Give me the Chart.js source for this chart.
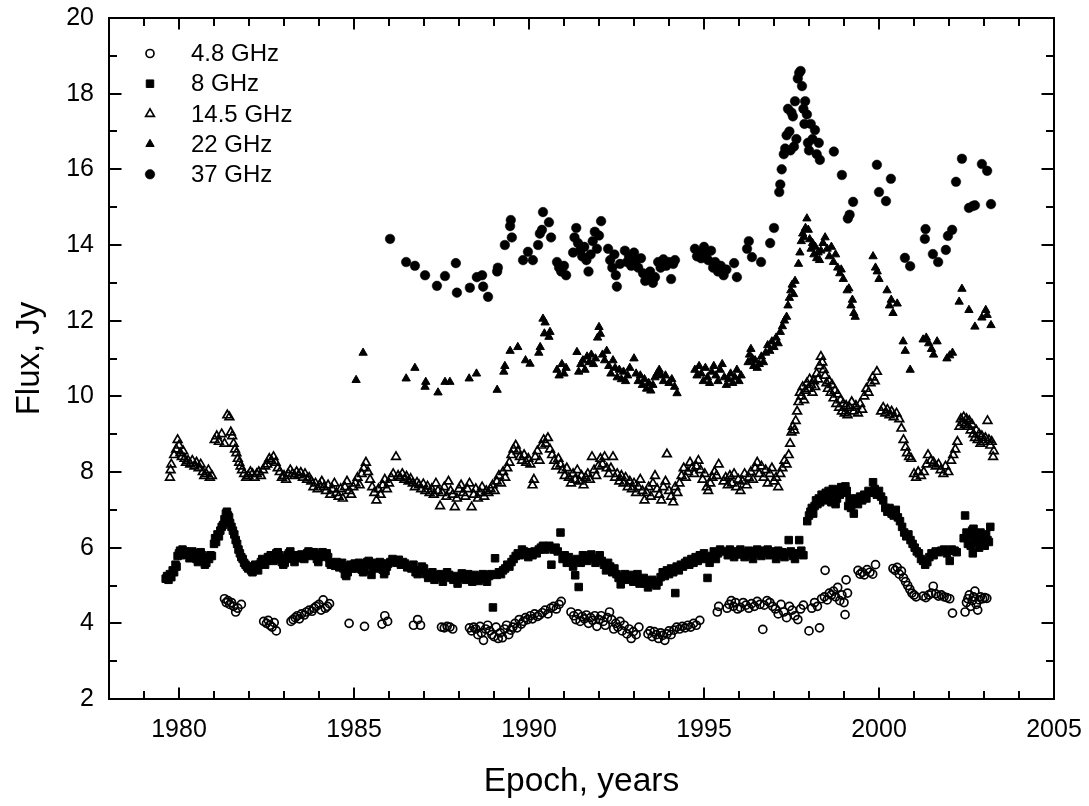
<!DOCTYPE html>
<html>
<head>
<meta charset="utf-8">
<script src="https://cdn.jsdelivr.net/npm/chart.js@4.4.1/dist/chart.umd.min.js"></script>
<style>
  html, body { margin: 0; padding: 0; background: #fff; }
  #wrap { width: 1089px; height: 806px; position: relative; }
</style>
</head>
<body>
<div id="wrap"><canvas id="c"></canvas></div>
<script>
// Radio light curves: [epoch (years), flux density (Jy)]
const seriesLabels = ['4.8 GHz', '8 GHz', '14.5 GHz', '22 GHz', '37 GHz'];
const yearTicks = [1980, 1985, 1990, 1995, 2000, 2005];
const fluxTicks = [2, 4, 6, 8, 10, 12, 14, 16, 18, 20];

const flux4_8 = [
  [1981.30,4.65],[1981.35,4.55],[1981.40,4.60],[1981.45,4.50],[1981.50,4.55],[1981.56,4.45],[1981.62,4.30],[1981.68,4.40],[1981.78,4.50],
  [1982.42,4.05],[1982.50,4.00],[1982.55,4.08],[1982.60,3.95],[1982.66,3.90],[1982.72,4.02],[1982.78,3.80],
  [1983.20,4.05],[1983.26,4.10],[1983.32,4.15],[1983.38,4.20],[1983.44,4.12],[1983.50,4.25],[1983.58,4.22],[1983.64,4.30],[1983.72,4.35],[1983.80,4.32],[1983.86,4.40],[1983.92,4.45],[1984.00,4.50],[1984.06,4.35],[1984.12,4.62],[1984.18,4.40],[1984.24,4.45],[1984.30,4.52],
  [1984.86,4.00],[1985.30,3.92],[1985.80,3.98],[1985.88,4.20],[1985.96,4.05],
  [1986.70,3.95],[1986.82,4.10],[1986.90,3.95],
  [1987.50,3.90],[1987.58,3.88],[1987.66,3.92],[1987.74,3.90],[1987.82,3.85],
  [1988.30,3.88],[1988.36,3.80],[1988.42,3.90],[1988.48,3.85],[1988.54,3.70],[1988.60,3.92],[1988.64,3.75],[1988.70,3.55],[1988.76,3.85],[1988.82,3.95],[1988.88,3.80],[1988.94,3.70],[1989.00,3.65],[1989.06,3.90],[1989.12,3.60],[1989.18,3.75],[1989.24,3.62],[1989.30,3.85],[1989.36,3.95],[1989.42,3.70],[1989.48,3.82],[1989.54,3.90],[1989.60,4.00],[1989.66,3.88],[1989.72,4.10],[1989.78,3.98],[1989.84,4.05],[1989.90,4.15],[1989.96,4.10],
  [1990.04,4.20],[1990.10,4.12],[1990.16,4.25],[1990.24,4.18],[1990.30,4.22],[1990.38,4.28],[1990.46,4.35],[1990.54,4.25],[1990.62,4.40],[1990.70,4.45],[1990.78,4.38],[1990.86,4.50],[1990.92,4.58],
  [1991.20,4.30],[1991.28,4.20],[1991.34,4.10],[1991.40,4.25],[1991.46,4.05],[1991.52,4.18],[1991.58,4.12],[1991.64,4.22],[1991.70,4.00],[1991.76,4.15],[1991.82,4.08],[1991.88,4.20],[1991.94,3.92],[1992.00,4.10],[1992.06,4.20],[1992.12,4.05],[1992.18,3.95],[1992.24,4.15],[1992.30,4.30],[1992.36,4.10],[1992.42,3.85],[1992.48,4.00],[1992.54,3.90],[1992.60,4.05],[1992.66,3.80],[1992.72,3.95],[1992.80,3.72],[1992.86,3.85],[1992.92,3.60],[1992.98,3.78],[1993.06,3.70],[1993.14,3.90],
  [1993.40,3.72],[1993.46,3.80],[1993.52,3.65],[1993.58,3.78],[1993.64,3.70],[1993.70,3.60],[1993.76,3.75],[1993.82,3.68],[1993.88,3.55],[1993.94,3.72],[1994.00,3.80],[1994.06,3.70],[1994.14,3.82],[1994.22,3.90],[1994.30,3.85],[1994.38,3.92],[1994.46,3.88],[1994.54,3.95],[1994.62,3.90],[1994.70,4.00],[1994.78,3.95],[1994.88,4.08],
  [1995.38,4.30],[1995.42,4.45],
  [1995.66,4.40],[1995.72,4.50],[1995.78,4.60],[1995.84,4.45],[1995.90,4.55],[1995.96,4.38],[1996.04,4.42],[1996.12,4.55],[1996.20,4.48],[1996.28,4.40],[1996.36,4.52],[1996.44,4.45],[1996.52,4.58],[1996.60,4.50],[1996.68,3.84],[1996.72,4.48],[1996.80,4.60],[1996.88,4.55],[1996.96,4.45],
  [1997.04,4.38],[1997.12,4.25],[1997.20,4.50],[1997.28,4.30],[1997.36,4.15],[1997.44,4.45],[1997.52,4.35],[1997.60,4.20],[1997.68,4.10],[1997.76,4.38],[1997.84,4.48],[1998.00,3.80],[1998.08,4.40],[1998.16,4.55],[1998.24,4.45],[1998.30,3.88],[1998.36,4.65],[1998.44,4.70],[1998.46,5.40],[1998.52,4.62],[1998.58,4.80],[1998.64,4.75],[1998.70,4.85],[1998.76,4.70],[1998.82,4.95],[1998.88,4.60],[1998.94,4.75],[1999.00,4.55],[1999.03,4.23],[1999.06,5.15],[1999.10,4.80],
  [1999.40,5.40],[1999.46,5.30],[1999.52,5.35],[1999.58,5.28],[1999.66,5.42],[1999.74,5.35],[1999.82,5.30],[1999.90,5.55],
  [2000.40,5.45],[2000.46,5.40],[2000.52,5.48],[2000.58,5.30],[2000.64,5.38],[2000.70,5.20],[2000.76,5.10],[2000.82,5.00],[2000.88,4.90],[2000.94,4.80],[2001.00,4.75],[2001.06,4.70],
  [2001.26,4.72],[2001.34,4.68],[2001.42,4.75],[2001.50,4.80],[2001.55,4.98],[2001.62,4.78],[2001.70,4.72],[2001.78,4.75],[2001.86,4.70],[2001.94,4.68],[2002.02,4.65],[2002.10,4.27],
  [2002.46,4.30],[2002.50,4.55],[2002.54,4.65],[2002.58,4.75],[2002.62,4.45],[2002.66,4.60],[2002.70,4.70],[2002.74,4.85],[2002.78,4.50],[2002.82,4.35],[2002.86,4.62],[2002.90,4.70],[2002.96,4.65],[2003.02,4.68],[2003.08,4.66]
];

const flux8 = [
  [1979.62,5.18],[1979.66,5.25],[1979.70,5.15],[1979.74,5.30],[1979.78,5.22],[1979.82,5.40],[1979.86,5.35],[1979.90,5.55],[1979.93,5.50],[1979.96,5.78],
  [1980.00,5.85],[1980.03,5.92],[1980.06,5.80],[1980.10,5.95],[1980.14,5.88],[1980.18,5.90],[1980.22,5.82],[1980.26,5.85],[1980.30,5.72],[1980.34,5.78],[1980.38,5.90],[1980.42,5.85],[1980.46,5.80],[1980.50,5.70],[1980.54,5.62],[1980.58,5.85],[1980.62,5.88],[1980.66,5.80],[1980.70,5.74],[1980.74,5.55],[1980.78,5.60],[1980.82,5.75],[1980.86,5.70],[1980.90,5.80],[1980.94,5.78],
  [1981.00,6.10],[1981.03,6.25],[1981.06,6.15],[1981.10,6.35],[1981.14,6.30],[1981.18,6.45],[1981.22,6.55],[1981.26,6.60],[1981.30,6.75],[1981.34,6.90],[1981.37,6.95],[1981.40,6.85],[1981.43,6.80],[1981.46,6.65],[1981.50,6.55],[1981.54,6.45],[1981.58,6.35],[1981.62,6.20],[1981.66,6.10],[1981.70,5.95],[1981.74,5.85],[1981.78,5.75],[1981.82,5.70],[1981.86,5.60],[1981.90,5.55],[1981.94,5.50],[1981.98,5.45],
  [1982.02,5.50],[1982.06,5.40],[1982.10,5.35],[1982.14,5.45],[1982.18,5.55],[1982.22,5.50],[1982.26,5.40],[1982.30,5.55],[1982.34,5.62],[1982.38,5.70],[1982.42,5.60],[1982.46,5.55],[1982.50,5.65],[1982.54,5.75],[1982.58,5.70],[1982.62,5.80],[1982.66,5.72],[1982.70,5.65],[1982.74,5.78],[1982.78,5.85],[1982.82,5.88],[1982.86,5.80],[1982.90,5.70],[1982.94,5.62],[1982.98,5.55],
  [1983.02,5.60],[1983.06,5.72],[1983.10,5.80],[1983.14,5.85],[1983.18,5.90],[1983.22,5.80],[1983.26,5.70],[1983.30,5.62],[1983.34,5.75],[1983.38,5.80],[1983.42,5.72],[1983.46,5.78],[1983.50,5.82],[1983.54,5.75],[1983.58,5.70],[1983.62,5.80],[1983.66,5.85],[1983.70,5.90],[1983.74,5.82],[1983.78,5.78],[1983.82,5.85],[1983.86,5.88],[1983.90,5.80],[1983.94,5.70],[1983.98,5.62],
  [1984.02,5.75],[1984.06,5.82],[1984.10,5.88],[1984.14,5.80],[1984.18,5.78],[1984.22,5.85],[1984.26,5.75],[1984.30,5.60],[1984.34,5.55],[1984.38,5.60],[1984.42,5.58],[1984.46,5.52],[1984.50,5.62],[1984.54,5.55],[1984.58,5.48],[1984.62,5.55],[1984.66,5.60],[1984.70,5.45],[1984.74,5.30],[1984.78,5.25],[1984.82,5.35],[1984.86,5.50],[1984.90,5.55],[1984.94,5.45],[1984.98,5.52],
  [1985.02,5.58],[1985.06,5.45],[1985.10,5.50],[1985.14,5.60],[1985.18,5.55],[1985.22,5.42],[1985.26,5.35],[1985.30,5.40],[1985.34,5.55],[1985.38,5.62],[1985.42,5.65],[1985.46,5.55],[1985.50,5.28],[1985.54,5.48],[1985.58,5.60],[1985.62,5.52],[1985.66,5.45],[1985.70,5.55],[1985.74,5.62],[1985.78,5.58],[1985.82,5.42],[1985.86,5.30],[1985.90,5.38],[1985.94,5.50],[1985.98,5.58],
  [1986.04,5.62],[1986.10,5.70],[1986.16,5.65],[1986.22,5.60],[1986.28,5.68],[1986.34,5.55],[1986.40,5.62],[1986.46,5.58],[1986.52,5.48],[1986.58,5.52],[1986.64,5.45],[1986.70,5.55],[1986.76,5.35],[1986.82,5.30],[1986.88,5.40],[1986.94,5.50],
  [1987.00,5.45],[1987.06,5.30],[1987.12,5.20],[1987.18,5.25],[1987.24,5.35],[1987.30,5.15],[1987.36,5.28],[1987.42,5.22],[1987.48,5.30],[1987.54,5.10],[1987.60,5.25],[1987.66,5.35],[1987.72,5.28],[1987.78,5.20],[1987.84,5.15],[1987.90,5.25],[1987.96,5.05],
  [1988.02,5.20],[1988.08,5.32],[1988.14,5.25],[1988.20,5.15],[1988.26,5.30],[1988.32,5.22],[1988.38,5.10],[1988.44,5.28],[1988.50,5.20],[1988.56,5.12],[1988.62,5.25],[1988.68,5.30],[1988.74,5.18],[1988.80,5.10],[1988.86,5.25],[1988.92,5.30],[1988.97,4.42],
  [1989.03,5.72],[1989.08,5.28],[1989.14,5.35],[1989.20,5.30],[1989.26,5.40],[1989.32,5.45],[1989.38,5.55],[1989.44,5.50],[1989.50,5.62],[1989.56,5.70],[1989.62,5.78],[1989.68,5.85],[1989.74,5.80],[1989.80,5.95],[1989.86,5.90],[1989.92,5.85],[1989.98,5.75],
  [1990.04,5.88],[1990.10,5.80],[1990.16,5.90],[1990.22,5.85],[1990.28,5.95],[1990.34,6.00],[1990.40,6.05],[1990.46,5.95],[1990.52,6.02],[1990.58,6.05],[1990.64,5.55],[1990.70,5.95],[1990.76,6.00],[1990.82,5.90],[1990.90,6.40],[1990.96,5.70],
  [1991.02,5.80],[1991.08,5.60],[1991.14,5.75],[1991.20,5.65],[1991.26,5.50],[1991.32,5.27],[1991.38,5.70],[1991.42,4.96],[1991.48,5.60],[1991.54,5.80],[1991.60,5.70],[1991.66,5.65],[1991.72,5.75],[1991.78,5.82],[1991.84,5.70],[1991.90,5.60],[1991.96,5.72],
  [1992.02,5.80],[1992.08,5.65],[1992.14,5.55],[1992.20,5.40],[1992.26,5.60],[1992.32,5.50],[1992.38,5.35],[1992.44,5.45],[1992.50,5.30],[1992.56,5.20],[1992.62,5.03],[1992.68,5.25],[1992.74,5.30],[1992.80,5.15],[1992.86,5.20],[1992.92,5.28],[1992.98,5.10],
  [1993.04,5.15],[1993.10,5.30],[1993.16,5.05],[1993.22,5.12],[1993.28,5.20],[1993.34,5.05],[1993.40,4.95],[1993.46,5.08],[1993.52,5.15],[1993.58,5.05],[1993.64,5.00],[1993.70,5.10],[1993.76,5.22],[1993.82,5.35],[1993.88,5.25],[1993.94,5.40],
  [1994.00,5.30],[1994.06,5.45],[1994.12,5.35],[1994.18,4.80],[1994.22,5.50],[1994.28,5.40],[1994.34,5.55],[1994.40,5.50],[1994.46,5.60],[1994.52,5.65],[1994.58,5.55],[1994.64,5.70],[1994.70,5.60],[1994.76,5.75],[1994.82,5.65],[1994.88,5.80],[1994.94,5.70],
  [1995.00,5.85],[1995.06,5.75],[1995.10,5.20],[1995.16,5.60],[1995.22,5.78],[1995.28,5.90],[1995.34,5.70],[1995.40,5.85],[1995.46,5.95],
  [1995.62,5.90],[1995.68,5.80],[1995.74,5.95],[1995.80,5.85],[1995.86,5.75],[1995.92,5.90],[1995.98,5.82],
  [1996.04,5.95],[1996.10,5.88],[1996.16,5.75],[1996.22,5.85],[1996.28,5.92],[1996.34,5.80],[1996.40,5.70],[1996.46,5.90],[1996.52,5.95],[1996.58,5.85],[1996.64,5.78],[1996.70,5.92],[1996.76,5.85],[1996.82,5.95],[1996.88,5.80],[1996.94,5.90],
  [1997.00,5.85],[1997.06,5.70],[1997.12,5.92],[1997.18,5.80],[1997.24,5.88],[1997.30,5.75],[1997.36,5.85],[1997.42,6.20],[1997.48,5.90],[1997.54,5.78],[1997.60,5.70],[1997.66,5.85],[1997.72,6.20],[1997.78,5.92],[1997.84,5.80],
  [1997.95,6.70],[1998.00,6.85],[1998.04,6.95],[1998.08,7.05],[1998.12,6.90],[1998.16,7.10],[1998.20,7.25],[1998.24,7.15],[1998.28,7.30],[1998.32,7.20],[1998.36,7.40],[1998.40,7.35],[1998.44,7.25],[1998.48,7.45],[1998.52,7.30],[1998.56,7.50],[1998.60,7.40],[1998.64,7.20],[1998.68,7.55],[1998.72,7.35],[1998.76,7.15],[1998.80,7.30],[1998.84,7.50],[1998.88,7.40],[1998.92,7.60],[1998.96,7.55],
  [1999.00,7.45],[1999.04,7.62],[1999.08,7.50],[1999.12,7.10],[1999.16,7.30],[1999.20,7.05],[1999.24,7.15],[1999.28,6.90],[1999.32,7.20],[1999.36,7.30],[1999.40,7.15],[1999.46,7.35],[1999.52,7.25],[1999.58,7.40],[1999.64,7.30],[1999.70,7.50],[1999.76,7.45],[1999.83,7.73],[1999.88,7.55],[1999.94,7.40],
  [2000.00,7.50],[2000.06,7.35],[2000.12,7.25],[2000.18,7.05],[2000.24,6.95],[2000.30,7.05],[2000.36,6.90],[2000.42,6.85],[2000.48,7.00],[2000.54,6.80],[2000.60,6.70],[2000.66,6.55],[2000.72,6.40],[2000.78,6.30],[2000.84,6.35],[2000.90,6.20],[2000.96,6.10],
  [2001.02,6.00],[2001.08,5.90],[2001.14,5.85],[2001.20,5.70],[2001.26,5.65],[2001.32,5.55],[2001.38,5.62],[2001.44,5.75],[2001.50,5.85],[2001.56,5.80],[2001.62,5.90],[2001.70,5.88],[2001.78,5.92],[2001.86,5.95],[2001.94,5.85],
  [2002.02,5.65],[2002.08,5.95],[2002.16,5.92],[2002.22,5.88],
  [2002.42,6.25],[2002.46,6.85],[2002.50,6.40],[2002.54,6.10],[2002.58,6.30],[2002.62,6.05],[2002.66,6.45],[2002.68,5.85],[2002.70,6.50],[2002.74,6.20],[2002.78,6.35],[2002.82,6.15],[2002.86,6.00],[2002.90,6.40],[2002.94,6.25],[2002.98,6.10],[2003.02,6.05],[2003.06,6.35],[2003.10,6.20],[2003.14,6.15],[2003.18,6.55]
];

const flux14_5 = [
  [1979.74,7.85],[1979.76,8.05],[1979.78,8.20],[1979.86,8.45],[1979.92,8.60],[1979.96,8.85],
  [1980.00,8.70],[1980.04,8.50],[1980.08,8.40],[1980.12,8.55],[1980.16,8.35],[1980.20,8.25],[1980.26,8.30],[1980.32,8.20],[1980.38,8.30],[1980.44,8.15],[1980.50,8.25],[1980.56,8.10],[1980.62,8.20],[1980.68,8.00],[1980.72,7.90],[1980.78,7.95],[1980.84,8.05],[1980.88,7.85],[1980.94,7.90],
  [1981.02,8.85],[1981.08,8.95],[1981.14,8.80],[1981.22,9.00],[1981.30,8.75],[1981.38,9.50],[1981.44,9.45],[1981.48,9.05],[1981.52,8.95],[1981.56,8.75],[1981.60,8.60],[1981.64,8.50],[1981.68,8.35],[1981.72,8.25],[1981.76,8.15],[1981.80,8.05],[1981.86,7.95],[1981.92,7.85],[1981.98,7.90],
  [1982.04,8.00],[1982.10,7.95],[1982.16,7.85],[1982.22,7.95],[1982.28,8.00],[1982.34,7.90],[1982.40,8.05],[1982.46,8.15],[1982.52,8.20],[1982.58,8.35],[1982.64,8.30],[1982.70,8.40],[1982.76,8.25],[1982.82,8.10],[1982.88,8.00],[1982.94,7.85],
  [1983.00,7.90],[1983.06,7.80],[1983.12,7.95],[1983.18,8.05],[1983.24,7.95],[1983.30,7.90],[1983.36,8.00],[1983.42,7.92],[1983.48,7.98],[1983.54,7.85],[1983.60,7.95],[1983.66,7.80],[1983.72,7.85],[1983.78,7.75],[1983.84,7.60],[1983.90,7.70],[1983.96,7.55],
  [1984.02,7.65],[1984.08,7.75],[1984.14,7.60],[1984.20,7.50],[1984.26,7.65],[1984.32,7.40],[1984.38,7.55],[1984.44,7.70],[1984.50,7.45],[1984.56,7.35],[1984.62,7.55],[1984.68,7.30],[1984.74,7.60],[1984.80,7.75],[1984.86,7.50],[1984.92,7.40],[1984.98,7.60],
  [1985.04,7.70],[1985.10,7.85],[1985.16,7.65],[1985.22,7.95],[1985.28,8.10],[1985.34,8.25],[1985.40,8.00],[1985.46,7.80],[1985.52,7.60],[1985.58,7.45],[1985.64,7.25],[1985.70,7.55],[1985.76,7.40],[1985.82,7.65],[1985.88,7.80],[1985.94,7.55],
  [1986.00,7.70],[1986.06,7.85],[1986.12,7.95],[1986.20,8.40],[1986.26,7.90],[1986.32,7.85],[1986.38,7.95],[1986.44,7.80],[1986.50,7.88],[1986.56,7.75],[1986.62,7.82],[1986.68,7.70],[1986.74,7.60],[1986.80,7.72],[1986.86,7.65],[1986.92,7.55],[1986.98,7.68],
  [1987.04,7.50],[1987.10,7.62],[1987.16,7.45],[1987.22,7.55],[1987.28,7.40],[1987.34,7.70],[1987.40,7.50],[1987.46,7.10],[1987.52,7.45],[1987.58,7.60],[1987.64,7.35],[1987.70,7.75],[1987.76,7.50],[1987.82,7.40],[1987.88,7.07],[1987.94,7.30],
  [1988.00,7.55],[1988.06,7.65],[1988.12,7.45],[1988.18,7.35],[1988.24,7.55],[1988.30,7.70],[1988.36,7.07],[1988.42,7.40],[1988.48,7.55],[1988.54,7.30],[1988.60,7.45],[1988.66,7.60],[1988.72,7.35],[1988.78,7.50],[1988.84,7.45],[1988.90,7.55],[1988.96,7.65],
  [1989.02,7.50],[1989.08,7.75],[1989.14,7.90],[1989.20,7.70],[1989.26,8.00],[1989.32,7.85],[1989.38,8.10],[1989.44,8.25],[1989.50,8.45],[1989.56,8.60],[1989.62,8.70],[1989.68,8.55],[1989.74,8.40],[1989.80,8.30],[1989.86,8.45],[1989.92,8.25],[1989.98,8.35],
  [1990.04,8.20],[1990.10,7.65],[1990.14,7.80],[1990.18,8.40],[1990.24,8.55],[1990.30,8.30],[1990.36,8.70],[1990.42,8.85],[1990.48,8.75],[1990.54,8.90],[1990.60,8.60],[1990.66,8.45],[1990.72,8.30],[1990.78,8.15],[1990.84,8.35],[1990.90,8.20],[1990.96,8.05],
  [1991.02,7.90],[1991.08,8.10],[1991.14,7.85],[1991.20,7.70],[1991.26,7.95],[1991.32,7.80],[1991.38,8.05],[1991.44,7.75],[1991.50,7.90],[1991.56,7.65],[1991.62,7.85],[1991.68,7.95],[1991.74,7.80],[1991.80,8.40],[1991.86,8.05],[1991.92,7.90],[1991.98,8.15],
  [1992.04,8.35],[1992.10,8.20],[1992.16,8.40],[1992.22,8.10],[1992.28,7.95],[1992.34,8.10],[1992.40,8.40],[1992.46,7.85],[1992.52,7.95],[1992.58,7.75],[1992.64,7.90],[1992.70,7.70],[1992.76,7.85],[1992.82,7.60],[1992.88,7.75],[1992.94,7.55],
  [1993.00,7.70],[1993.06,7.45],[1993.12,7.60],[1993.18,7.80],[1993.24,7.50],[1993.30,7.25],[1993.36,7.45],[1993.42,7.60],[1993.48,7.35],[1993.54,7.70],[1993.60,7.90],[1993.66,7.55],[1993.72,7.40],[1993.78,7.25],[1993.84,7.60],[1993.90,7.75],[1993.94,8.47],
  [1994.00,7.50],[1994.06,7.35],[1994.12,7.20],[1994.18,7.60],[1994.24,7.45],[1994.30,7.70],[1994.36,7.90],[1994.42,8.10],[1994.48,7.85],[1994.54,8.00],[1994.60,8.25],[1994.66,8.10],[1994.72,7.95],[1994.78,8.15],[1994.84,8.30],[1994.90,8.05],[1994.96,7.80],
  [1995.02,7.95],[1995.08,7.60],[1995.12,7.50],[1995.18,7.70],[1995.24,7.85],[1995.30,8.00],[1995.36,7.90],[1995.42,8.20],
  [1995.56,7.75],[1995.62,7.85],[1995.68,7.65],[1995.74,7.90],[1995.80,7.70],[1995.86,7.95],[1995.92,7.60],[1995.98,7.80],
  [1996.04,7.50],[1996.10,7.75],[1996.16,7.95],[1996.22,7.65],[1996.28,7.85],[1996.34,8.00],[1996.40,7.80],[1996.46,8.10],[1996.52,8.25],[1996.58,7.95],[1996.64,8.15],[1996.70,7.85],[1996.76,8.05],[1996.82,7.70],[1996.88,7.95],[1996.94,8.10],
  [1997.00,7.75],[1997.06,7.85],[1997.12,7.60],[1997.18,7.95],[1997.24,8.10],[1997.30,8.30],[1997.36,8.20],[1997.42,8.45],[1997.46,8.75],[1997.50,9.05],[1997.54,9.20],[1997.58,9.10],[1997.62,9.35],[1997.66,9.60],[1997.70,9.85],[1997.74,10.10],[1997.78,10.00],[1997.82,10.25],[1997.86,9.90],[1997.90,10.15],[1997.94,10.35],[1997.98,10.20],
  [1998.02,10.45],[1998.06,10.30],[1998.10,10.10],[1998.14,10.40],[1998.18,10.25],[1998.22,10.60],[1998.26,10.45],[1998.30,10.80],[1998.34,11.05],[1998.38,10.90],[1998.42,10.70],[1998.46,10.55],[1998.50,10.35],[1998.54,10.20],[1998.58,10.40],[1998.62,10.10],[1998.66,10.30],[1998.70,9.95],[1998.74,10.15],[1998.78,9.80],[1998.82,10.05],[1998.86,9.70],[1998.90,9.90],[1998.94,9.60],[1998.98,9.80],
  [1999.02,9.55],[1999.06,9.75],[1999.10,9.50],[1999.16,9.70],[1999.22,9.85],[1999.28,9.60],[1999.34,9.75],[1999.40,9.55],[1999.46,9.80],[1999.52,9.65],[1999.58,10.00],[1999.64,10.20],[1999.70,10.10],[1999.76,10.35],[1999.82,10.50],[1999.88,10.40],[1999.94,10.65],
  [2000.06,9.60],[2000.12,9.70],[2000.18,9.55],[2000.24,9.65],[2000.30,9.50],[2000.36,9.60],[2000.42,9.45],[2000.50,9.55],[2000.58,9.40],[2000.64,9.15],[2000.70,8.85],[2000.76,8.65],[2000.80,8.50],[2000.86,8.40],[2000.92,8.35],
  [2001.00,7.95],[2001.06,7.85],[2001.12,8.00],[2001.20,7.90],[2001.28,8.00],[2001.36,8.20],[2001.40,8.45],[2001.48,8.30],[2001.56,8.25],[2001.62,8.15],[2001.70,8.20],[2001.76,8.05],[2001.84,7.95],[2001.90,8.15],[2001.98,8.00],
  [2002.06,8.30],[2002.12,8.45],[2002.18,8.60],[2002.24,8.80],[2002.30,9.20],[2002.34,9.40],[2002.38,9.30],[2002.42,9.45],[2002.46,9.25],[2002.50,9.40],[2002.54,9.20],[2002.58,9.35],[2002.62,9.10],[2002.66,9.25],[2002.70,9.00],[2002.74,8.90],[2002.78,9.10],[2002.82,8.85],[2002.86,9.00],[2002.90,8.75],[2002.94,8.95],[2002.98,8.80],
  [2003.04,8.90],[2003.10,9.35],[2003.14,8.85],[2003.18,8.70],[2003.22,8.80],[2003.26,8.40],[2003.28,8.55]
];

const flux22 = [
  [1985.06,10.43],[1985.26,11.15],[1986.49,10.47],[1986.74,10.75],[1987.03,10.25],[1987.05,10.38],[1987.40,10.10],[1987.60,10.38],[1987.74,10.38],[1988.29,10.47],[1988.50,10.60],
  [1989.09,10.17],[1989.28,10.65],[1989.31,10.80],[1989.46,11.20],[1989.68,11.30],[1989.90,10.95],[1990.03,10.86],[1990.28,11.15],[1990.32,11.30],[1990.40,12.05],[1990.46,11.95],[1990.44,11.66],[1990.57,11.57],[1990.60,11.70],
  [1990.80,10.70],[1990.86,10.55],[1990.94,10.85],[1991.00,10.60],[1991.06,10.75],[1991.37,11.17],[1991.42,10.65],[1991.48,10.85],[1991.54,10.95],[1991.60,10.70],[1991.66,11.05],[1991.72,10.90],[1991.78,11.10],[1991.84,10.85],[1991.90,11.00],[1991.96,11.55],
  [1992.00,11.83],[1992.04,11.65],[1992.10,11.10],[1992.16,10.95],[1992.22,11.20],[1992.28,10.80],[1992.34,10.60],[1992.40,10.95],[1992.46,10.75],[1992.52,10.50],[1992.58,10.70],[1992.64,10.45],[1992.70,10.65],[1992.76,10.40],[1992.82,10.55],[1992.88,10.75],
  [1993.00,11.00],[1993.06,10.60],[1993.12,10.40],[1993.18,10.55],[1993.24,10.30],[1993.30,10.45],[1993.36,10.20],[1993.42,10.35],[1993.48,10.15],[1993.54,10.30],[1993.60,10.50],[1993.66,10.60],[1993.72,10.70],[1993.78,10.55],[1993.84,10.40],[1993.90,10.55],
  [1994.00,10.35],[1994.08,10.45],[1994.16,10.25],[1994.23,10.08],
  [1994.74,10.70],[1994.80,10.55],[1994.86,10.80],[1994.92,10.60],[1994.98,10.40],[1995.04,10.75],[1995.10,10.50],[1995.16,10.35],[1995.22,10.65],[1995.28,10.80],[1995.34,10.55],[1995.40,10.40],[1995.46,10.70],[1995.52,10.85],[1995.58,10.50],[1995.64,10.30],[1995.70,10.45],[1995.76,10.60],[1995.82,10.35],[1995.88,10.50],[1995.94,10.70],
  [1996.00,10.40],[1996.06,10.55],[1996.26,10.90],[1996.30,11.10],[1996.34,11.25],[1996.38,11.00],[1996.42,10.80],[1996.46,10.95],[1996.52,10.75],[1996.58,10.85],[1996.64,11.05],[1996.70,10.90],[1996.76,11.15],[1996.82,11.35],[1996.88,11.20],[1996.94,11.45],
  [1997.00,11.30],[1997.06,11.55],[1997.12,11.40],[1997.18,11.70],[1997.24,11.85],[1997.30,12.00],[1997.36,12.10],[1997.40,12.40],[1997.44,12.60],[1997.48,12.80],[1997.52,12.95],[1997.56,12.70],[1997.60,13.05],
  [1997.70,13.50],[1997.74,13.80],[1997.78,14.10],[1997.82,14.30],[1997.86,14.20],[1997.90,14.45],[1997.94,14.70],[1997.98,14.40],
  [1998.02,14.15],[1998.06,13.90],[1998.10,14.05],[1998.14,13.75],[1998.18,13.95],[1998.22,13.65],[1998.26,13.80],[1998.30,13.60],[1998.34,13.85],[1998.40,14.05],[1998.46,14.20],[1998.52,13.90],[1998.58,13.70],[1998.64,13.95],[1998.70,13.55],[1998.76,13.75],[1998.82,13.40],[1998.88,13.25],[1998.92,13.35],[1998.98,13.10],
  [1999.09,12.80],[1999.14,12.85],[1999.20,12.40],[1999.24,12.55],[1999.28,12.20],[1999.32,12.10],
  [1999.83,13.70],[1999.90,13.40],[1999.95,13.30],[2000.00,13.10],[2000.23,12.80],[2000.30,12.40],[2000.35,12.55],[2000.40,12.20],[2000.52,12.45],[2000.69,11.45],[2000.75,11.20],[2000.89,10.70],
  [2001.26,11.50],[2001.35,11.55],[2001.42,11.40],[2001.50,11.25],[2001.56,11.10],[2001.66,11.45],[2001.94,11.00],[2002.02,11.08],[2002.10,11.15],
  [2002.29,12.50],[2002.37,12.84],[2002.57,12.28],[2002.74,11.84],[2002.94,12.08],[2003.05,12.28],[2003.09,12.15],[2003.20,11.88]
];

const flux37 = [
  [1986.03,14.16],[1986.49,13.55],[1986.74,13.45],[1987.03,13.20],[1987.37,12.92],[1987.60,13.18],[1987.91,13.52],[1987.94,12.74],[1988.31,12.87],[1988.51,13.15],[1988.66,13.20],[1988.69,12.90],[1988.83,12.63],
  [1989.09,13.30],[1989.11,13.40],[1989.31,14.00],[1989.46,14.50],[1989.48,14.66],[1989.51,14.20],[1989.83,13.60],[1989.97,13.82],[1990.11,13.60],[1990.26,14.00],[1990.31,14.30],[1990.37,14.40],[1990.40,14.87],[1990.57,14.60],[1990.63,14.20],
  [1990.80,13.55],[1990.86,13.40],[1990.92,13.30],[1991.00,13.45],[1991.06,13.20],[1991.26,13.80],[1991.30,14.20],[1991.35,14.45],[1991.40,14.05],[1991.46,13.85],[1991.52,13.70],[1991.58,13.95],[1991.64,13.60],[1991.70,13.30],[1991.76,13.75],[1991.82,14.10],[1991.88,14.35],[1991.94,13.90],
  [1992.00,14.25],[1992.06,14.63],[1992.26,13.90],[1992.32,13.60],[1992.38,13.40],[1992.44,13.75],[1992.48,13.20],[1992.51,12.90],[1992.60,13.50],[1992.74,13.85],[1992.80,13.55],[1992.86,13.70],[1992.92,13.45],
  [1993.00,13.80],[1993.06,13.60],[1993.12,13.40],[1993.20,13.65],[1993.26,13.25],[1993.32,13.05],[1993.40,13.20],[1993.46,13.30],[1993.54,13.00],[1993.60,13.15],[1993.69,13.55],[1993.76,13.40],[1993.84,13.62],[1993.92,13.45],
  [1994.00,13.55],[1994.06,13.10],[1994.12,13.50],[1994.17,13.60],
  [1994.74,13.90],[1994.80,13.70],[1994.86,13.80],[1994.92,13.65],[1995.00,13.95],[1995.06,13.75],[1995.12,13.60],[1995.20,13.85],[1995.26,13.40],[1995.32,13.55],[1995.40,13.30],[1995.48,13.45],[1995.56,13.20],[1995.64,13.35],[1995.86,13.52],[1995.94,13.15],
  [1996.23,13.90],[1996.28,14.10],[1996.37,13.68],[1996.63,13.55],[1996.89,14.05],[1997.00,14.45],
  [1997.15,15.40],[1997.18,15.60],[1997.22,16.00],[1997.28,16.40],[1997.32,16.55],[1997.36,16.90],[1997.40,17.60],[1997.44,17.00],[1997.47,16.50],[1997.50,17.50],[1997.54,17.40],[1997.57,16.60],[1997.60,17.80],[1997.64,16.80],[1997.68,18.40],[1997.72,18.55],[1997.76,18.60],[1997.80,18.20],[1997.84,17.60],[1997.87,17.20],[1997.89,17.80],[1997.94,17.45],[1997.97,16.70],
  [1998.00,16.50],[1998.05,17.20],[1998.10,16.80],[1998.17,17.04],[1998.22,16.40],[1998.28,16.70],[1998.31,16.25],[1998.71,16.47],[1998.94,15.85],
  [1999.11,14.70],[1999.16,14.80],[1999.26,15.14],[1999.94,16.12],[2000.00,15.40],[2000.20,15.16],[2000.34,15.75],[2000.74,13.66],[2000.89,13.44],
  [2001.31,14.16],[2001.33,14.42],[2001.54,13.76],[2001.69,13.55],[2001.91,13.87],[2001.97,14.24],[2002.09,14.40],[2002.20,15.67],[2002.37,16.28],[2002.57,14.98],[2002.68,15.03],[2002.74,15.05],[2002.94,16.14],[2003.09,15.96],[2003.20,15.08]
];

const FONT = "'Liberation Sans', Arial, Helvetica, sans-serif";
Chart.defaults.font.family = FONT;
Chart.defaults.color = '#000';

const toXY = arr => arr.map(([x, y]) => ({ x, y }));

const datasets = [
  { label: seriesLabels[0], data: toXY(flux4_8),  pointStyle: 'circle',   pointRadius: 4.0, backgroundColor: 'rgba(0,0,0,0)', borderColor: '#000', borderWidth: 1.7 },
  { label: seriesLabels[1], data: toXY(flux8),    pointStyle: 'rect',     pointRadius: 5.3, backgroundColor: '#000', borderColor: '#000', borderWidth: 1 },
  { label: seriesLabels[2], data: toXY(flux14_5), pointStyle: 'triangle', pointRadius: 5.0, backgroundColor: 'rgba(0,0,0,0)', borderColor: '#000', borderWidth: 1.7 },
  { label: seriesLabels[3], data: toXY(flux22),   pointStyle: 'triangle', pointRadius: 4.8, backgroundColor: '#000', borderColor: '#000', borderWidth: 1 },
  { label: seriesLabels[4], data: toXY(flux37),   pointStyle: 'circle',   pointRadius: 4.8, backgroundColor: '#000', borderColor: '#000', borderWidth: 0.5 }
];

// Draws a marker shaped like a dataset's point style
function drawMarker(ctx, ds, x, y) {
  const r = ds.pointRadius;
  ctx.beginPath();
  if (ds.pointStyle === 'circle') {
    ctx.arc(x, y, r, 0, Math.PI * 2);
  } else if (ds.pointStyle === 'rect') {
    const h = r * Math.SQRT1_2;
    ctx.rect(x - h, y - h, 2 * h, 2 * h);
  } else {
    const s = r * Math.sin(Math.PI * 2 / 3);
    ctx.moveTo(x, y - r);
    ctx.lineTo(x + s, y + r / 2);
    ctx.lineTo(x - s, y + r / 2);
    ctx.closePath();
  }
  ctx.fillStyle = ds.backgroundColor;
  ctx.fill();
  ctx.lineWidth = ds.borderWidth;
  ctx.strokeStyle = ds.borderColor;
  ctx.stroke();
}

// Boxed frame with inward ticks on all four sides (long at labelled values)
const framePlugin = {
  id: 'frame',
  afterDatasetsDraw(chart) {
    const { ctx, chartArea: a, scales: { x, y } } = chart;
    ctx.save();
    ctx.strokeStyle = '#000';
    ctx.lineWidth = 2;
    ctx.beginPath();
    for (let v = Math.ceil(x.min); v <= x.max; v++) {
      const px = Math.round(x.getPixelForValue(v));
      const len = v % 5 === 0 ? 11.5 : 8;
      ctx.moveTo(px, a.bottom); ctx.lineTo(px, a.bottom - len);
      ctx.moveTo(px, a.top);    ctx.lineTo(px, a.top + len);
    }
    for (let v = Math.ceil(y.min); v <= y.max; v++) {
      const py = Math.round(y.getPixelForValue(v));
      const len = v % 2 === 0 ? 12.5 : 8;
      ctx.moveTo(a.left, py);  ctx.lineTo(a.left + len, py);
      ctx.moveTo(a.right, py); ctx.lineTo(a.right - len, py);
    }
    ctx.stroke();
    ctx.strokeRect(a.left, a.top, a.right - a.left, a.bottom - a.top);
    ctx.restore();
  }
};

// Legend in the upper-left corner of the plot
const legendPlugin = {
  id: 'cornerLegend',
  afterDraw(chart) {
    const { ctx } = chart;
    ctx.save();
    ctx.font = '24px ' + FONT;
    ctx.textBaseline = 'middle';
    ctx.textAlign = 'left';
    chart.data.datasets.forEach((ds, i) => {
      const yy = 53.5 + i * 30.2;
      drawMarker(ctx, ds, 150, yy);
      ctx.fillStyle = '#000';
      ctx.fillText(ds.label, 191, yy + 1);
    });
    ctx.restore();
  }
};

new Chart(document.getElementById('c'), {
  type: 'scatter',
  data: { datasets },
  options: {
    responsive: true,
    maintainAspectRatio: false,
    animation: false,
    layout: { padding: { left: 0, right: 35, top: 18, bottom: 0 } },
    plugins: { legend: { display: false }, tooltip: { enabled: false } },
    scales: {
      x: {
        type: 'linear',
        min: 1978, max: 2005,
        afterBuildTicks: s => { s.ticks = yearTicks.map(v => ({ value: v })); },
        afterFit: s => { s.height = 107; s.paddingLeft = 0; s.paddingRight = 0; },
        grid: { display: false, drawTicks: false },
        border: { display: false },
        ticks: { font: { size: 25 }, padding: 16, maxRotation: 0, callback: v => String(v) },
        title: { display: true, text: 'Epoch, years', font: { size: 33.5, lineHeight: 1 }, padding: { bottom: 7 } }
      },
      y: {
        type: 'linear',
        min: 2, max: 20,
        afterBuildTicks: s => { s.ticks = fluxTicks.map(v => ({ value: v })); },
        afterFit: s => { s.width = 109; s.paddingTop = 0; s.paddingBottom = 0; },
        grid: { display: false, drawTicks: false },
        border: { display: false },
        ticks: { font: { size: 25 }, padding: 15, callback: v => String(v) },
        title: { display: true, text: 'Flux, Jy', font: { size: 33, lineHeight: 1 }, padding: { top: 13 } }
      }
    }
  },
  plugins: [framePlugin, legendPlugin]
});
</script>
</body>
</html>
